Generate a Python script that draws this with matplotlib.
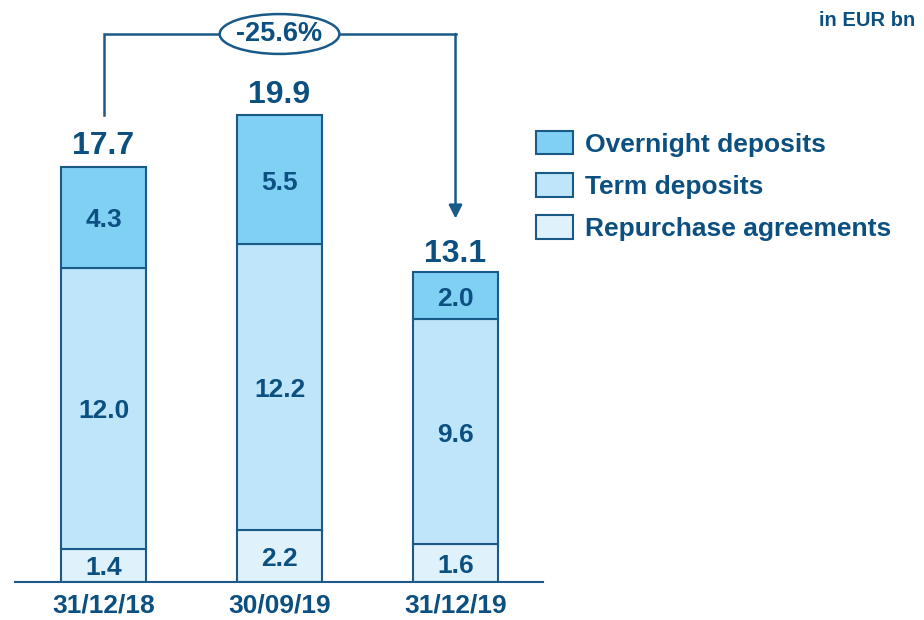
import matplotlib.pyplot as plt
from matplotlib.patches import Ellipse

plt.rcParams['font.family'] = ['Liberation Sans', 'DejaVu Sans']
plt.rcParams['font.weight'] = 'bold'

dates = ["31/12/18", "30/09/19", "31/12/19"]
repurchase = [1.4, 2.2, 1.6]
term = [12.0, 12.2, 9.6]
overnight = [4.3, 5.5, 2.0]
totals = [17.7, 19.9, 13.1]
change_label = "-25.6%"

dark = '#0b5080'
edge = '#1a5a88'
c_over = '#80d0f4'
c_term = '#bee5f9'
c_repo = '#dff2fc'

fig = plt.figure(figsize=(9.24, 6.2), dpi=100)
ax = fig.add_axes([15 / 924, 38 / 620, 528 / 924, 582 / 620])

x = list(range(len(dates)))
w = 0.483
b1 = ax.bar(x, repurchase, w, color=c_repo, edgecolor=edge, linewidth=1.5, label="Repurchase agreements")
b2 = ax.bar(x, term, w, bottom=repurchase, color=c_term, edgecolor=edge, linewidth=1.5, label="Term deposits")
bottom2 = [r + t for r, t in zip(repurchase, term)]
b3 = ax.bar(x, overnight, w, bottom=bottom2, color=c_over, edgecolor=edge, linewidth=1.5, label="Overnight deposits")

seg_kw = dict(textcoords='offset points', xytext=(0, -2), ha='center', va='center', fontsize=19, color=dark)
for i in x:
    ax.annotate(f"{repurchase[i]:.1f}", (i, repurchase[i] / 2), **seg_kw)
    ax.annotate(f"{term[i]:.1f}", (i, repurchase[i] + term[i] / 2), **seg_kw)
    ax.annotate(f"{overnight[i]:.1f}", (i, bottom2[i] + overnight[i] / 2), **seg_kw)
    ax.annotate(f"{totals[i]:.1f}", (i, totals[i]), xytext=(0, 4), textcoords='offset points',
                ha='center', va='bottom', fontsize=23, color=dark)

ax.set_xlim(-0.503, 2.497)
ax.set_ylim(0, 24.82)
for s in ['top', 'right', 'left']:
    ax.spines[s].set_visible(False)
ax.spines['bottom'].set_color(edge)
ax.spines['bottom'].set_linewidth(1.5)
ax.set_yticks([])
ax.set_xticks(x)
ax.set_xticklabels(dates, fontsize=19, color=dark)
ax.tick_params(axis='x', length=0, pad=8.5)

# bracket with change
y_top = 23.37
ax.plot([0, 0, 2], [totals[1], y_top, y_top], color=edge, lw=1.8, solid_joinstyle='miter', clip_on=False)
ax.annotate("", xy=(2, 15.5), xytext=(2, y_top),
            arrowprops=dict(arrowstyle='-|>', color=edge, lw=1.8, mutation_scale=20, shrinkA=0, shrinkB=0))
ax.add_patch(Ellipse((1, y_top), 0.68, 1.7, facecolor='white', edgecolor=edge, lw=1.8, zorder=5, clip_on=False))
ax.text(1, y_top, change_label, ha='center', va='center', fontsize=19.5, color=dark, zorder=6)

handles = [b3, b2, b1]
fig.legend(handles, [h.get_label() for h in handles], loc='upper left', bbox_to_anchor=(512 / 924, 1 - 107 / 620),
           frameon=False, fontsize=19, handlelength=1.4, handleheight=1.0, labelspacing=0.62,
           handletextpad=0.45, labelcolor=dark)

fig.text(0.99, 1 - 20 / 620, "in EUR bn", ha='right', va='center', fontsize=14.5, color=dark)

fig.savefig("out.png", dpi=100)
